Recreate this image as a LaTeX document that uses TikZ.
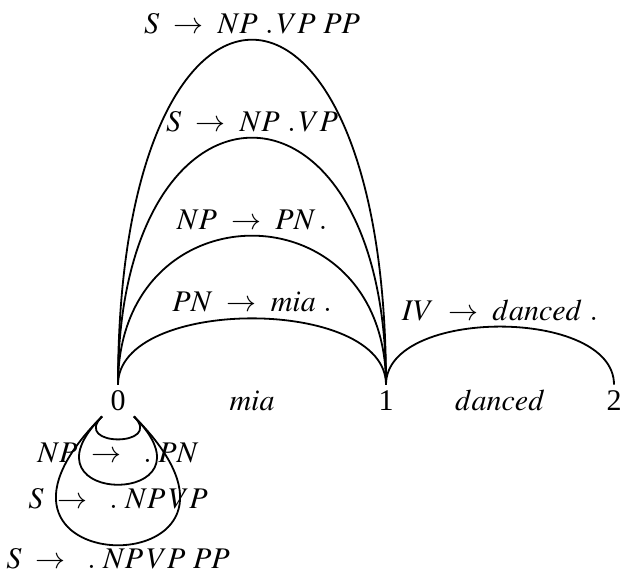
\documentclass[tikz,border=0pt]{standalone}
\usepackage{amsmath}
\usepackage{mathptmx}
\usepackage{fontspec}
\setmainfont{Liberation Serif}
\usepackage{tikz}

\tikzset{
  vertex/.style={minimum size=30pt, inner sep=0pt},
  edgelabel/.style={inner sep=5pt},
  looplabel/.style={inner sep=2.5pt},
}

\begin{document}
\begin{tikzpicture}[x=1pt, y=1pt, line width=1.8pt, font=\fontsize{30}{36}\selectfont]
  \useasboundingbox (0,0) rectangle (624,575);

  % chart vertices
  \node[vertex] (n0) at (118,174.5) {0};
  \node[vertex] (n1) at (386,174.5) {1};
  \node[vertex] (n2) at (614,174.5) {2};

  % words between the vertices
  \path (n0.base) -- node[anchor=base] {$mia$} (n1.base);
  \path (n1.base) -- node[anchor=base] {$danced$} (n2.base);

  % passive and active edges
  \draw (n0) to[out=90, in=90, looseness=0.845] node[above, edgelabel] {$PN\ \rightarrow\ mia\ .$} (n1);
  \draw (n0) to[out=90, in=90, looseness=1.9] node[above, edgelabel] {$NP\ \rightarrow\ PN\,.$} (n1);
  \draw (n0) to[out=90, in=90, looseness=3.15] node[above, edgelabel] {$S\ \rightarrow\ NP\ .\,VP$} (n1);
  \draw (n0) to[out=90, in=90, looseness=4.4] node[above, edgelabel] {$S\ \rightarrow\ NP\ .\,VP\ PP$} (n1);
  \draw (n1) to[out=90, in=90, looseness=0.87] node[above, edgelabel] {$IV\ \rightarrow\ danced\ .$} (n2);

  % empty edges at vertex 0
  \draw (n0.south west) to[out=-135, in=-45, looseness=3.5] node[below, looplabel] {$NP\ \rightarrow\ \ .\;PN$} (n0.south east);
  \draw (n0.south west) to[out=-135, in=-45, looseness=10.4] node[below, looplabel] {$S\ \rightarrow\ \ .\ NP\,VP$} (n0.south east);
  \draw (n0.south west) to[out=-135, in=-45, looseness=19.6] node[below, looplabel] {$S\ \rightarrow\ \ .\ NP\,VP\ PP$} (n0.south east);
\end{tikzpicture}
\end{document}
